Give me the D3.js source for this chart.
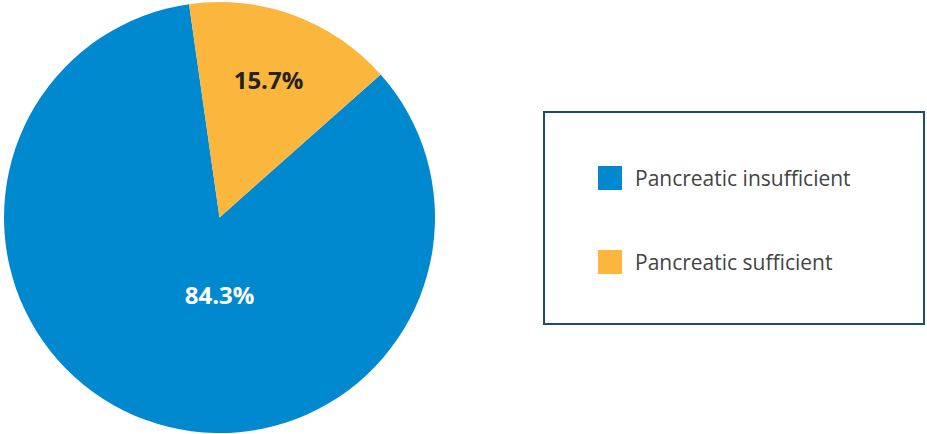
<!DOCTYPE html>
<html><head><meta charset="utf-8">
<script src="https://cdn.jsdelivr.net/npm/d3@7"></script>
<style>html,body{margin:0;padding:0;background:#fff;}svg{display:block;}</style>
</head><body>
<svg id="c" width="927" height="434"></svg>
<script>
const categories = ["Pancreatic insufficient", "Pancreatic sufficient"];
const values = [84.3, 15.7];
const labels = ["84.3%", "15.7%"];
const colors = ["#0089CF", "#FBB63D"];

const svg = d3.select("#c");
const cx = 219.5, cy = 217.5, r = 215.5;
const startRad = 48.4 * Math.PI / 180;
const pie = d3.pie().sort(null).value(d => d.v)
  .startAngle(startRad).endAngle(startRad + 2 * Math.PI);
const data = pie(categories.map((c, i) => ({c, v: values[i], i})));
const arc = d3.arc().innerRadius(0).outerRadius(r);
const g = svg.append("g").attr("transform", `translate(${cx},${cy})`);
g.selectAll("path").data(data).join("path")
  .attr("d", arc).attr("fill", d => colors[d.data.i]);

const labelPos = [[0, 86], [49, -129]];
g.selectAll("text").data(data).join("text")
  .attr("x", d => labelPos[d.data.i][0])
  .attr("y", d => labelPos[d.data.i][1])
  .attr("text-anchor", "middle")
  .attr("font-family", "'Open Sans', sans-serif")
  .attr("font-weight", 700)
  .attr("font-size", 24)
  .attr("fill", d => d.data.i === 0 ? "#ffffff" : "#222222")
  .text(d => labels[d.data.i]);

// legend
svg.append("rect").attr("x", 544).attr("y", 112).attr("width", 380).attr("height", 212)
  .attr("fill", "#fff").attr("stroke", "#1F4E6B").attr("stroke-width", 2);
const lg = svg.append("g");
const ly = d3.scalePoint().domain(categories).range([178, 262]);
categories.forEach((c, i) => {
  lg.append("rect").attr("x", 598).attr("y", ly(c) - 12).attr("width", 24).attr("height", 24)
    .attr("fill", colors[i]);
  lg.append("text").attr("x", 635).attr("y", ly(c) + 8)
    .attr("font-family", "'Open Sans', sans-serif").attr("font-size", 21)
    .attr("fill", "#444444").text(c);
});
</script>
</body></html>
